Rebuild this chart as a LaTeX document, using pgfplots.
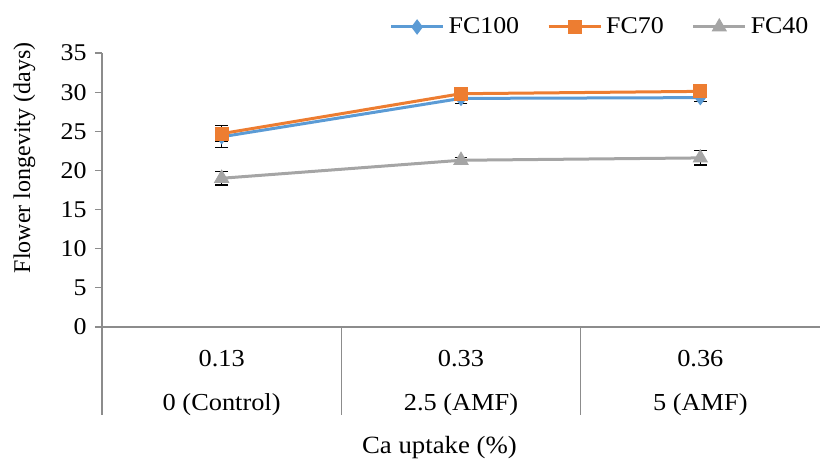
\documentclass[border=0pt]{standalone}
\usepackage{pgfplots}
\pgfplotsset{compat=1.18}
\usepackage{fontspec}
\setmainfont{Liberation Serif}[FakeStretch=1.08]
\newfontfamily\plainfont{Liberation Serif}
\definecolor{cblue}{HTML}{5B9BD5}
\definecolor{corange}{HTML}{ED7D31}
\definecolor{cgray}{HTML}{A5A5A5}
\definecolor{axgray}{HTML}{8C8C8C}
\begin{document}
\fontsize{12}{14}\selectfont
\begin{tikzpicture}
\useasboundingbox (-51pt,-67pt) rectangle (359.5pt,163.5pt);
\begin{axis}[
  at={(0,0)}, anchor=south west,
  scale only axis, width=359pt, height=137pt,
  xmin=-0.5, xmax=2.5, ymin=0, ymax=35,
  clip=false,
  axis x line*=bottom, axis y line*=left,
  axis line style={axgray, line width=0.6pt},
  ytick={0,5,...,35},
  xtick={0,1,2},
  xticklabels={{0.13\\0 (Control)},{0.33\\2.5 (AMF)},{0.36\\5 (AMF)}},
  xticklabel style={align=center, font=\fontsize{12.2}{22}\selectfont, yshift=-4pt},
  x tick style={draw=none},
  y tick style={axgray, line width=0.6pt},
  major tick length=3.5pt, tick align=outside,
  tick label style={font=\fontsize{12}{14}\selectfont},
  /pgf/number format/assume math mode=true,
  ylabel={Flower longevity (days)},
  ylabel style={at={(axis description cs:-0.108,0.617)}, anchor=center, font=\plainfont\fontsize{12}{14}\selectfont},
  xlabel={Ca uptake (\%)},
  xlabel style={at={(axis description cs:0.47,0)}, anchor=center, yshift=-60.5pt, font=\fontsize{12.4}{14}\selectfont},
  legend columns=-1,
  legend style={draw=none, fill=none, at={(axis description cs:0.4,1.095)}, anchor=west,
    font=\fontsize{12}{14}\selectfont, inner sep=0pt,
    /tikz/every even column/.append style={column sep=12pt}},
  legend image code/.code={\draw[mark repeat=2,mark phase=2] plot coordinates {(0pt,0pt) (13pt,0pt) (26pt,0pt)};},
  every axis plot/.append style={line width=1.5pt},
  error bars/error bar style={black, line width=0.6pt},
  error bars/error mark options={rotate=90, black, mark size=3.2pt, line width=0.6pt},
]
\draw[axgray, line width=0.6pt] (axis cs:-0.5,0) -- ++(0pt,-44pt);
\draw[axgray, line width=0.6pt] (axis cs:0.5,0) -- ++(0pt,-44pt);
\draw[axgray, line width=0.6pt] (axis cs:1.5,0) -- ++(0pt,-44pt);
\addplot[cblue, mark=diamond*, mark size=3.5pt, mark options={line width=0.5pt},
  error bars/.cd, y dir=both, y explicit] table[x=x, y=y, y error=e] {
x y e
0 24.3 1.4
1 29.2 0.6
2 29.3 0.5
};
\addlegendentry{FC100}
\addplot[corange, mark=square*, mark size=3.3pt, mark options={line width=0.5pt},
  error bars/.cd, y dir=both, y explicit] table[x=x, y=y, y error=e] {
x y e
0 24.7 1.0
1 29.8 0.3
2 30.1 0.8
};
\addlegendentry{FC70}
\addplot[cgray, mark=triangle*, mark size=4pt, mark options={line width=0.5pt},
  error bars/.cd, y dir=both, y explicit] table[x=x, y=y, y error=e] {
x y e
0 19.0 0.85
1 21.3 0.4
2 21.6 0.9
};
\addlegendentry{FC40}
\end{axis}
\end{tikzpicture}
\end{document}
